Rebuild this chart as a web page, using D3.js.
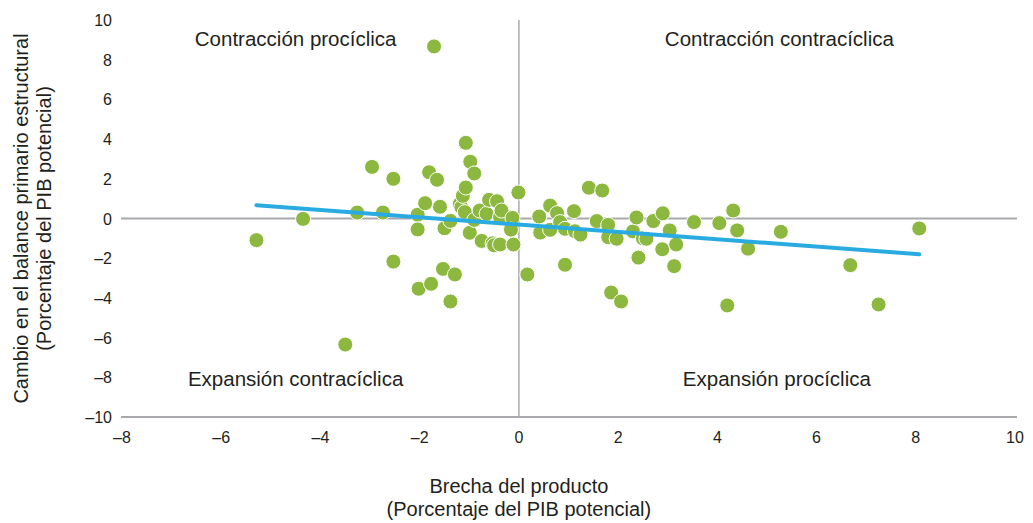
<!DOCTYPE html>
<html>
<head>
<meta charset="utf-8">
<script src="https://cdn.jsdelivr.net/npm/d3@7"></script>
<style>
  body { margin: 0; background: #fff; }
  svg { font-family: "Liberation Sans", Arial, sans-serif; }
  .tick-label { fill: #231f20; font-size: 16px; }
  .quad { fill: #231f20; font-size: 20.5px; }
  .title { fill: #231f20; font-size: 20px; }
</style>
</head>
<body>
<svg width="1033" height="523"></svg>
<script>
// brecha del producto (x), cambio en balance primario estructural (y)
const gap = [-5.29, -4.35, -3.5, -3.26, -2.96, -2.74, -2.53, -2.53, -2.04, -2.04,
  -2.02, -1.89, -1.81, -1.77, -1.71, -1.65, -1.59, -1.53, -1.5, -1.38,
  -1.38, -1.29, -1.19, -1.16, -1.13, -1.09, -1.07, -1.07, -0.98, -0.99,
  -0.9, -0.9, -0.79, -0.75, -0.65, -0.6, -0.53, -0.5, -0.44, -0.38,
  -0.35, -0.38, -0.13, -0.16, -0.11, -0.01, 0.17, 0.41, 0.43, 0.63,
  0.63, 0.77, 0.83, 0.93, 0.93, 1.11, 1.13, 1.24, 1.41, 1.57,
  1.68, 1.8, 1.8, 1.86, 1.97, 2.06, 2.3, 2.37, 2.41, 2.5,
  2.57, 2.71, 2.9, 2.89, 3.04, 3.13, 3.17, 3.53, 4.04, 4.2,
  4.32, 4.4, 4.62, 5.28, 6.68, 7.25, 8.07];
const balance = [-1.09, -0.02, -6.35, 0.3, 2.6, 0.3, 2.0, -2.17, 0.19, -0.55,
  -3.54, 0.77, 2.33, -3.29, 8.67, 1.95, 0.59, -2.54, -0.49, -0.12,
  -4.18, -2.82, 0.74, 0.57, 1.14, 0.32, 3.81, 1.56, 2.86, -0.72,
  2.27, -0.07, 0.4, -1.13, 0.24, 0.94, -1.25, -1.35, 0.87, 0.07,
  0.4, -1.31, 0.03, -0.56, -1.31, 1.31, -2.82, 0.1, -0.71, 0.65,
  -0.57, 0.27, -0.18, -0.52, -2.33, 0.37, -0.64, -0.81, 1.55, -0.13,
  1.41, -0.32, -0.94, -3.73, -1.02, -4.18, -0.65, 0.05, -1.97, -1.0,
  -1.02, -0.13, 0.26, -1.55, -0.6, -2.4, -1.31, -0.18, -0.23, -4.38,
  0.4, -0.6, -1.52, -0.67, -2.35, -4.33, -0.5];

// linear trend as drawn (endpoints)
const trendX = [-5.29, 8.07];
const trendY = [0.67, -1.8];

const xTicks = [-8, -6, -4, -2, 0, 2, 4, 6, 8, 10];
const yTicks = [-10, -8, -6, -4, -2, 0, 2, 4, 6, 8, 10];

const quadrants = [
  { text: "Contracción procíclica", x: -4.5, y: 9.05 },
  { text: "Contracción contracíclica", x: 5.25, y: 9.05 },
  { text: "Expansión contracíclica", x: -4.5, y: -8.1 },
  { text: "Expansión procíclica", x: 5.2, y: -8.1 }
];

const svg = d3.select("svg");
const x = d3.scaleLinear().domain([-8, 10]).range([122, 1015]);
const y = d3.scaleLinear().domain([-10, 10]).range([417, 20]);
const fmt = d => d < 0 ? "\u2013" + Math.abs(d) : String(d);

// reference lines
svg.append("line")
  .attr("x1", 121).attr("x2", 1017)
  .attr("y1", y(-10)).attr("y2", y(-10))
  .attr("stroke", "#a7a9ac").attr("stroke-width", 2);
svg.append("line")
  .attr("x1", 121).attr("x2", 1017)
  .attr("y1", y(0)).attr("y2", y(0))
  .attr("stroke", "#a7a9ac").attr("stroke-width", 2);
svg.append("line")
  .attr("x1", x(0)).attr("x2", x(0))
  .attr("y1", y(10)).attr("y2", y(-10))
  .attr("stroke", "#a7a9ac").attr("stroke-width", 1.5);

svg.append("g").selectAll("text")
  .data(xTicks).join("text")
  .attr("class", "tick-label")
  .attr("x", d => x(d)).attr("y", y(-10) + 26)
  .attr("text-anchor", "middle")
  .text(fmt);

svg.append("g").selectAll("text")
  .data(yTicks).join("text")
  .attr("class", "tick-label")
  .attr("x", 112).attr("y", d => y(d) + 6)
  .attr("text-anchor", "end")
  .text(fmt);

svg.append("g").selectAll("text")
  .data(quadrants).join("text")
  .attr("class", "quad")
  .attr("x", d => x(d.x)).attr("y", d => y(d.y) + 7)
  .attr("text-anchor", "middle")
  .text(d => d.text);

// points
svg.append("g").selectAll("circle")
  .data(gap.map((g, i) => [g, balance[i]])).join("circle")
  .attr("cx", d => x(d[0]))
  .attr("cy", d => y(d[1]))
  .attr("r", 7.5)
  .attr("fill", "#8cb83f")
  .attr("stroke", "#fff")
  .attr("stroke-width", 1);

svg.append("path")
  .datum(trendX.map((t, i) => [t, trendY[i]]))
  .attr("fill", "none")
  .attr("stroke", "#29abe2")
  .attr("stroke-width", 4)
  .attr("stroke-linecap", "round")
  .attr("d", d3.line().x(d => x(d[0])).y(d => y(d[1])));

// axis titles
svg.append("text").attr("class", "title")
  .attr("x", x(0)).attr("y", 493).attr("text-anchor", "middle")
  .text("Brecha del producto");
svg.append("text").attr("class", "title")
  .attr("x", x(0)).attr("y", 516).attr("text-anchor", "middle")
  .text("(Porcentaje del PIB potencial)");

const yt = svg.append("text").attr("class", "title")
  .attr("transform", "translate(0," + y(0) + ") rotate(-90)")
  .attr("text-anchor", "middle");
yt.append("tspan").attr("x", 0).attr("y", 28).text("Cambio en el balance primario estructural");
yt.append("tspan").attr("x", 0).attr("y", 51).text("(Porcentaje del PIB potencial)");
</script>
</body>
</html>
